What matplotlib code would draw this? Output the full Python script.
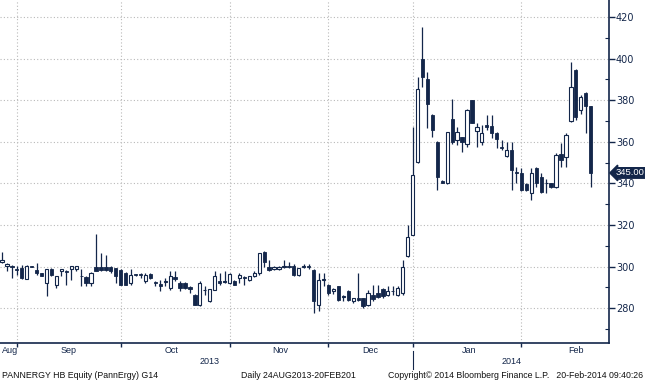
import matplotlib
matplotlib.use("Agg")
import matplotlib.pyplot as plt
import matplotlib.transforms as mtransforms
from matplotlib.ticker import MultipleLocator

# Daily OHLC, PANNERGY HB, 28 Aug 2013 - 20 Feb 2014
opens = [302.0, 300.3, 300.0, 298.6, 299.2, 294.0, 300.2, 298.4, 296.8, 292.0,
         298.7, 291.2, 297.6, 297.6, 298.7, 298.7, 295.4, 294.9, 292.0, 300.0,
         300.0, 300.0, 299.7, 299.2, 298.4, 296.8, 292.0, 296.2, 296.2, 292.8,
         296.5, 292.2, 291.5, 292.6, 289.6, 294.9, 292.3, 292.0, 290.0, 286.4,
         281.6, 288.5, 283.2, 288.8, 293.2, 292.6, 292.0, 292.8, 294.4, 294.6,
         293.6, 295.5, 296.8, 307.2, 300.0, 298.7, 298.7, 300.0, 300.2, 300.3,
         296.0, 300.0, 300.3, 298.4, 281.6, 293.4, 291.2, 288.0, 290.4, 285.5,
         288.0, 283.2, 284.8, 284.8, 281.6, 286.4, 287.2, 289.1, 286.4, 288.2,
         286.4, 287.2, 305.1, 315.2, 350.4, 400.0, 390.0, 373.1, 360.0, 341.1,
         340.0, 370.9, 360.8, 362.1, 358.9, 380.0, 365.1, 360.0, 368.0, 367.5,
         364.0, 357.6, 353.1, 356.0, 345.3, 344.8, 339.5, 335.2, 347.2, 343.2,
         340.0, 340.0, 338.4, 354.1, 352.8, 370.1, 394.4, 375.2, 383.5, 377.0]
highs = [307.0, 301.6, 300.8, 300.3, 300.8, 300.5, 300.3, 301.9, 297.0, 299.0,
         299.2, 295.2, 298.7, 298.4, 300.3, 300.3, 298.7, 295.5, 297.5, 315.5,
         306.4, 305.6, 300.3, 299.5, 298.7, 297.5, 298.7, 296.5, 296.8, 296.8,
         297.0, 292.8, 293.6, 294.4, 297.6, 297.6, 292.8, 292.5, 290.4, 287.0,
         292.8, 290.4, 289.1, 297.6, 296.8, 297.6, 296.8, 293.6, 296.8, 295.2,
         295.2, 297.6, 306.7, 307.5, 303.2, 300.3, 300.3, 303.2, 302.4, 301.0,
         299.5, 301.3, 301.0, 298.7, 296.8, 296.8, 291.5, 289.6, 290.8, 286.4,
         288.5, 285.0, 296.8, 285.0, 288.8, 291.2, 291.2, 289.6, 290.4, 290.4,
         290.4, 303.2, 320.0, 367.2, 391.0, 415.2, 393.6, 373.5, 360.5, 341.5,
         364.8, 380.8, 367.2, 362.5, 376.0, 380.2, 368.8, 368.0, 372.8, 372.8,
         364.5, 360.8, 360.0, 360.0, 348.0, 347.2, 340.0, 347.2, 348.0, 344.8,
         341.9, 340.2, 354.4, 359.2, 364.3, 398.4, 395.2, 382.4, 383.8, 377.2]
lows = [301.5, 297.6, 294.4, 296.0, 293.9, 293.9, 299.8, 296.0, 295.5, 285.6,
        295.2, 289.6, 295.2, 291.2, 293.6, 298.0, 290.4, 290.4, 290.4, 297.8,
        297.6, 297.6, 297.0, 292.0, 291.0, 291.0, 291.2, 295.5, 294.4, 292.0,
        294.0, 290.4, 288.0, 290.4, 288.8, 292.8, 288.0, 289.0, 287.2, 281.3,
        280.8, 286.4, 283.0, 288.6, 291.2, 292.0, 291.6, 291.0, 292.0, 291.2,
        293.0, 294.9, 296.0, 300.0, 297.6, 298.4, 298.4, 299.2, 299.2, 295.5,
        295.5, 299.2, 298.7, 277.6, 278.4, 290.4, 286.4, 287.0, 283.5, 283.2,
        283.5, 282.4, 283.2, 280.0, 280.8, 283.2, 285.0, 285.0, 285.6, 286.4,
        286.0, 286.4, 304.8, 315.0, 349.6, 386.4, 366.4, 362.4, 336.8, 340.0,
        339.8, 359.0, 358.4, 355.2, 357.6, 369.0, 357.6, 358.4, 365.6, 361.6,
        356.8, 356.0, 352.8, 336.8, 340.0, 336.5, 336.5, 332.0, 338.4, 335.2,
        335.5, 338.0, 338.0, 348.0, 348.0, 369.6, 370.4, 373.6, 364.3, 338.4]
closes = [303.0, 301.1, 299.8, 298.4, 294.4, 300.3, 300.0, 296.8, 295.5, 298.7,
          296.0, 295.2, 298.7, 297.4, 300.3, 300.3, 295.2, 292.0, 297.1, 298.0,
          298.1, 298.4, 297.6, 295.2, 291.2, 291.2, 296.0, 296.0, 296.0, 296.0,
          294.4, 292.0, 290.4, 292.8, 295.2, 293.9, 289.6, 289.6, 289.0, 281.6,
          292.3, 288.8, 289.1, 295.2, 292.3, 292.8, 296.5, 291.2, 296.0, 294.4,
          295.2, 296.8, 306.4, 302.4, 298.4, 300.0, 300.0, 300.3, 300.0, 296.0,
          299.2, 300.3, 299.7, 283.2, 293.6, 293.6, 287.2, 289.1, 284.0, 285.6,
          284.0, 284.8, 283.7, 280.8, 287.2, 284.3, 285.3, 285.6, 288.0, 288.0,
          289.6, 300.0, 314.1, 344.0, 385.6, 391.2, 378.0, 365.6, 343.2, 340.0,
          364.8, 360.0, 364.8, 360.0, 375.2, 369.1, 367.2, 364.0, 367.2, 364.0,
          361.1, 356.8, 356.0, 346.4, 345.1, 336.8, 336.8, 344.8, 340.0, 336.0,
          340.2, 338.4, 353.6, 351.2, 363.2, 386.4, 372.0, 381.3, 377.1, 345.0]

month_names = ["Sep", "Oct", "Nov", "Dec", "Jan", "Feb"]
month_starts = [3, 24, 46, 66, 83, 105]   # index of first trading day
label_names = ["Aug", "Sep", "Oct", "Nov", "Dec", "Jan", "Feb"]
label_pos = [1.6, 13.4, 34.2, 56.2, 74.4, 94.4, 116.0]
years = ["2013", "2014"]
year_pos = [42.0, 103.0]
last_price = closes[-1]

NAVY = "#13264a"
GRID = "#b9b9b9"

fig = plt.figure(figsize=(6.45, 3.8), dpi=100)
ax = fig.add_axes([0.0, 1 - 343 / 380, 609 / 645, 343 / 380])
plt.rcParams['font.family'] = ['Liberation Sans', 'DejaVu Sans']

xs = list(range(len(opens)))

# grid
for v in range(280, 421, 20):
    ax.axhline(v, color=GRID, lw=0.8, ls=(0, (1, 2)), zorder=1)
for m in month_starts:
    ax.axvline(m, color=GRID, lw=0.8, ls=(0, (1, 2)), zorder=1)

# wicks
ax.vlines(xs, lows, highs, color=NAVY, lw=0.9, zorder=2)

# bodies
for x, o, c in zip(xs, opens, closes):
    bottom = min(o, c)
    h = max(abs(c - o), 0.35)
    if c < o:
        ax.bar(x, h, bottom=bottom, width=0.66, color=NAVY, edgecolor=NAVY,
               lw=0.6, zorder=3)
    else:
        ax.bar(x, h, bottom=bottom, width=0.66, color="white", edgecolor=NAVY,
               lw=0.8, zorder=3)

ax.set_xlim(-0.4, 122.7)
ax.set_ylim(263.2, 428.2)

# axes styling
for s in ["left", "top"]:
    ax.spines[s].set_visible(False)
ax.spines["right"].set_color(NAVY)
ax.spines["bottom"].set_color(NAVY)
ax.spines["right"].set_linewidth(1.2)
ax.spines["bottom"].set_linewidth(1.2)

ax.yaxis.tick_right()
ax.yaxis.set_major_locator(MultipleLocator(20))
ax.yaxis.set_minor_locator(MultipleLocator(10))
ax.set_yticks(range(280, 421, 20))
ax.tick_params(axis="y", which="major", direction="out", length=4, width=1,
               color=NAVY, labelcolor=NAVY, labelsize=7, pad=1)
ax.tick_params(axis="y", which="minor", direction="in", length=3, width=0.8,
               color=NAVY)

ax.set_xticks(month_starts)
ax.set_xticklabels([])
ax.tick_params(axis="x", which="major", direction="out", length=3, width=1,
               color=NAVY)

trans = mtransforms.blended_transform_factory(ax.transData, ax.transAxes)
for name, p in zip(label_names, label_pos):
    ax.text(p, -0.022, name, transform=trans, ha="center", va="center",
            fontsize=6.5, color=NAVY)
for name, p in zip(years, year_pos):
    ax.text(p, -0.054, name, transform=trans, ha="center", va="center",
            fontsize=6.5, color=NAVY)
# year separator
ax.plot([month_starts[4], month_starts[4]], [-0.022, -0.075], transform=trans,
        color=NAVY, lw=0.8, clip_on=False)

# last price tag
ax.annotate(f"{last_price:.2f}", xy=(1.0, last_price),
            xycoords=("axes fraction", "data"), xytext=(4.5, 0),
            textcoords="offset points", ha="left", va="center",
            fontsize=6.8, color="white",
            bbox=dict(boxstyle="larrow,pad=0.08", fc=NAVY, ec=NAVY))

# footer
fig.text(0.003, 0.013, "PANNERGY HB Equity (PannErgy) G14", ha="left",
         va="center", fontsize=6.3, color="#111111")
fig.text(0.373, 0.013, "Daily 24AUG2013-20FEB201", ha="left", va="center",
         fontsize=6.3, color="#111111")
fig.text(0.997, 0.013,
         "Copyright\u00a9 2014 Bloomberg Finance L.P.   20-Feb-2014 09:40:26",
         ha="right", va="center", fontsize=6.3, color="#111111")

plt.savefig("out.png", dpi=100)
